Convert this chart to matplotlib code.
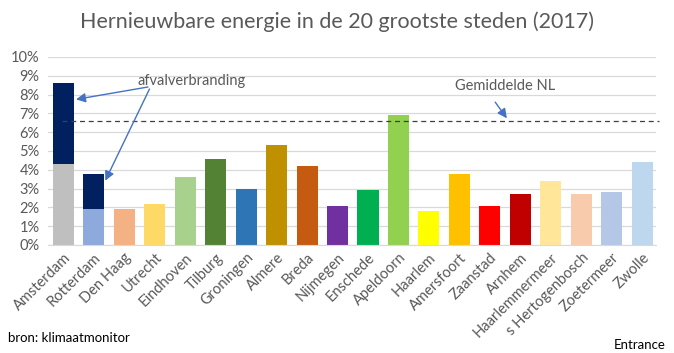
import numpy as np
import matplotlib
matplotlib.use("Agg")
import matplotlib.pyplot as plt
from matplotlib.ticker import PercentFormatter

steden = ["Amsterdam", "Rotterdam", "Den Haag", "Utrecht", "Eindhoven", "Tilburg",
          "Groningen", "Almere", "Breda", "Nijmegen", "Enschede", "Apeldoorn",
          "Haarlem", "Amersfoort", "Zaanstad", "Arnhem", "Haarlemmermeer",
          "s Hertogenbosch", "Zoetermeer", "Zwolle"]
# percentage hernieuwbaar (zonder afvalverbranding)
basis = [4.3, 1.9, 1.9, 2.2, 3.6, 4.6, 3.0, 5.3, 4.2, 2.1, 2.9, 6.9,
         1.8, 3.8, 2.1, 2.7, 3.4, 2.7, 2.8, 4.4]
# extra door afvalverbranding
afval = [4.3, 1.9, 0, 0, 0, 0, 0, 0, 0, 0, 0, 0,
         0, 0, 0, 0, 0, 0, 0, 0]
gemiddelde_nl = 6.6

kleuren = ["#BFBFBF", "#8EA9DB", "#F4B183", "#FFD966", "#A9D18E", "#548235",
           "#2E75B6", "#BF9000", "#C55A11", "#7030A0", "#00B050", "#92D050",
           "#FFFF00", "#FFC000", "#FF0000", "#C00000", "#FFE699", "#F8CBAD",
           "#B4C7E7", "#BDD7EE"]
afval_kleur = "#002060"
tekst_kleur = "#595959"

plt.rcParams["font.family"] = ["Lato", "DejaVu Sans"]

fig = plt.figure(figsize=(6.74, 3.53), dpi=100)
ax = fig.add_axes([48 / 674, 108 / 353, 608 / 674, 188 / 353])

x = np.arange(len(steden))
ax.bar(x, basis, width=0.69, color=kleuren, zorder=2)
ax.bar(x, afval, width=0.69, bottom=basis, color=afval_kleur, zorder=2)

ax.plot([-0.05, 19.55], [gemiddelde_nl, gemiddelde_nl], ls=(0, (4, 3)),
        color="#404040", lw=0.9, zorder=3, clip_on=False)

ax.set_xlim(-0.5, 19.45)
ax.set_ylim(0, 10)
ax.set_yticks(np.arange(0, 11, 1))
ax.yaxis.set_major_formatter(PercentFormatter(decimals=0))
ax.grid(axis="y", color="#D9D9D9", lw=0.9, zorder=0)
ax.set_xticks(x)
ax.set_xticklabels(steden, rotation=45, ha="right", rotation_mode="anchor")
ax.tick_params(axis="both", length=0, labelsize=10.5, colors=tekst_kleur, pad=6)
ax.tick_params(axis="x", pad=4)
for s in ["top", "right", "left"]:
    ax.spines[s].set_visible(False)
ax.spines["bottom"].set_color("#D9D9D9")

pijl = dict(arrowstyle="-|>", color="#4472C4", lw=1.0, mutation_scale=14)
ax.annotate("", xy=(0.33, 7.72), xytext=(2.87, 8.43), arrowprops=pijl)
ax.annotate("", xy=(1.34, 3.29), xytext=(2.87, 8.43), arrowprops=pijl)
ax.text(4.2, 8.75, "afvalverbranding", ha="center", va="center",
        fontsize=10.5, color=tekst_kleur)
ax.annotate("", xy=(14.61, 6.62), xytext=(14.12, 7.72), arrowprops=pijl)
ax.text(14.5, 8.45, "Gemiddelde NL", ha="center", va="center",
        fontsize=10.5, color=tekst_kleur)

fig.text(0.5, 1 - 22 / 353, "Hernieuwbare energie in de 20 grootste steden (2017)",
         ha="center", va="center", fontsize=15.5, color=tekst_kleur)
fig.text(8 / 674, 1 - 338 / 353, "bron: klimaatmonitor", ha="left", va="center",
         fontsize=9.5, color="black")
fig.text(666 / 674, 1 - 345 / 353, "Entrance", ha="right", va="center",
         fontsize=9.5, color="black")

fig.savefig("out.png", dpi=100)
